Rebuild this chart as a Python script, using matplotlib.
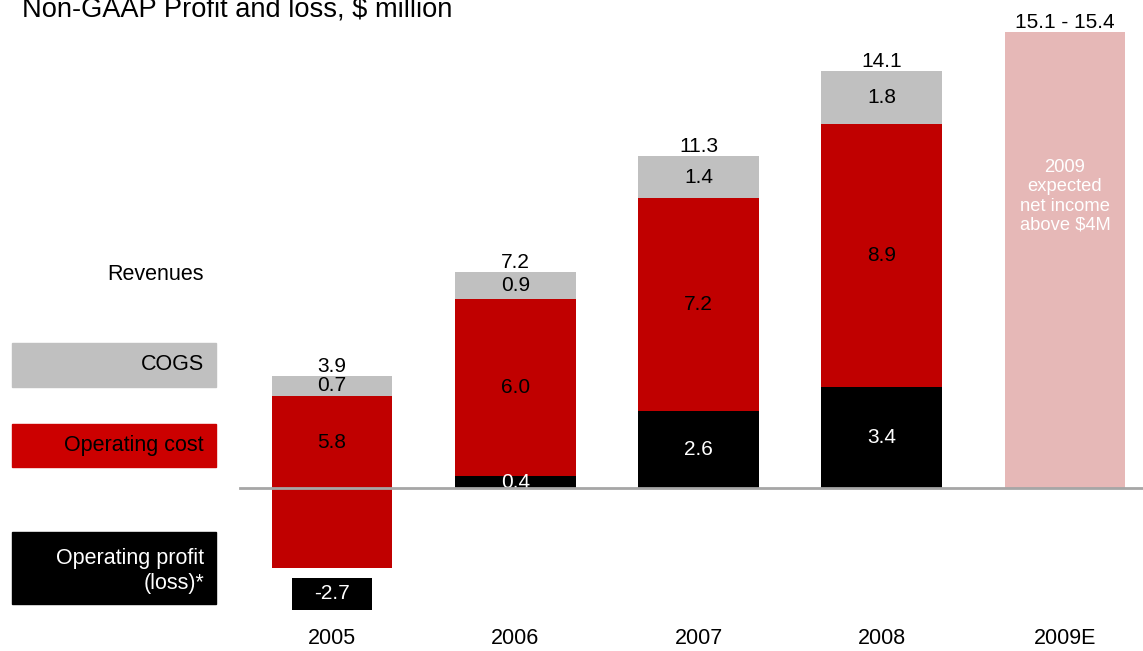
import matplotlib as mpl
import matplotlib.pyplot as plt
from matplotlib.patches import Rectangle

mpl.rcParams['font.family'] = ['Liberation Sans', 'DejaVu Sans']

years = ['2005', '2006', '2007', '2008']
op_profit = [-2.7, 0.4, 2.6, 3.4]
op_cost = [5.8, 6.0, 7.2, 8.9]
cogs = [0.7, 0.9, 1.4, 1.8]
revenues = ['3.9', '7.2', '11.3', '14.1']

year_e = '2009E'
revenue_e = 15.4
revenue_e_label = '15.1 - 15.4'
note_e = '2009\nexpected\nnet income\nabove $4M'

RED = '#C00000'
GRAY = '#C0C0C0'
PINK = '#E6B8B7'
FS = 15

W, H = 1143, 651
fig = plt.figure(figsize=(W / 100, H / 100), dpi=100)
ax = fig.add_axes([0, 0, 1, 1])
ax.axis('off')

# pixel layout: first bar centre at 332, step 183.25, zero at y=488, 29.6 px per unit
step = 183.25
ppu = 29.6
ax.set_xlim(-332 / step, (W - 332) / step)
ax.set_ylim(-(H - 488) / ppu, 488 / ppu)


def px(x, y):
    return x / W, 1 - y / H


bw = 0.66
for i, yr in enumerate(years):
    p, c, g = op_profit[i], op_cost[i], cogs[i]
    if p >= 0:
        ax.bar(i, p, width=bw, color='black', zorder=2)
        ax.text(i, p / 2, f'{p:.1f}', ha='center', va='center', color='white',
                fontsize=FS, zorder=3)
    else:
        # loss shown as a black tag under the bar
        ax.bar(i, 1.08, bottom=p - 0.34 - 1.08, width=0.44, color='black', zorder=2)
        ax.text(i, p - 0.34 - 0.54, f'{p:.1f}', ha='center', va='center',
                color='white', fontsize=FS, zorder=3)
    red_bottom = p
    ax.bar(i, c, bottom=red_bottom, width=bw, color=RED, zorder=2)
    top_red = red_bottom + c
    lab_y = max(red_bottom, 0) + (top_red - max(red_bottom, 0)) / 2
    ax.text(i, lab_y, f'{c:.1f}', ha='center', va='center', color='black',
            fontsize=FS, zorder=3)
    ax.bar(i, g, bottom=top_red, width=bw, color=GRAY, zorder=2)
    ax.text(i, top_red + g / 2, f'{g:.1f}', ha='center', va='center',
            color='black', fontsize=FS, zorder=3)
    ax.text(i, top_red + g, revenues[i], ha='center', va='bottom',
            color='black', fontsize=FS, zorder=3)

# 2009 estimate
ie = len(years)
ax.bar(ie, revenue_e, width=bw, color=PINK, zorder=2)
ax.text(ie, revenue_e, revenue_e_label, ha='center', va='bottom',
        fontsize=FS, zorder=3)
ax.text(ie, 9.85, note_e, ha='center', va='center', color='white',
        fontsize=13.2, linespacing=1.18, zorder=3)

# year labels
for i, yr in enumerate(years + [year_e]):
    ax.text(i, -5.07, yr, ha='center', va='center', fontsize=15.5)

# zero line
ax.plot([-0.502, ax.get_xlim()[1]], [0, 0], color='#A6A6A6', lw=2, zorder=4)

# title (cut at the top edge, as in the original slide)
ax.text(*px(22, 16), 'Non-GAAP Profit and loss, $ million', transform=ax.transAxes,
        fontsize=19.6, va='baseline', ha='left')

# legend
ax.text(*px(204, 274), 'Revenues', transform=ax.transAxes, ha='right',
        va='center', fontsize=15.5)
for y0, y1, col in [(343, 387, GRAY), (424, 467, '#CC0000'), (532, 604, 'black')]:
    x0, yb = px(12, y1)
    ax.add_patch(Rectangle((x0, yb), (216 - 12) / W, (y1 - y0) / H,
                           transform=ax.transAxes, color=col, zorder=1))
ax.text(*px(204, 365), 'COGS', transform=ax.transAxes, ha='right', va='center',
        fontsize=15.5)
ax.text(*px(204, 446), 'Operating cost', transform=ax.transAxes, ha='right',
        va='center', fontsize=15.5)
ax.text(*px(204, 571), 'Operating profit\n(loss)*', transform=ax.transAxes,
        ha='right', va='center', fontsize=15.5, color='white', linespacing=1.3)

fig.savefig('out.png', dpi=100)
